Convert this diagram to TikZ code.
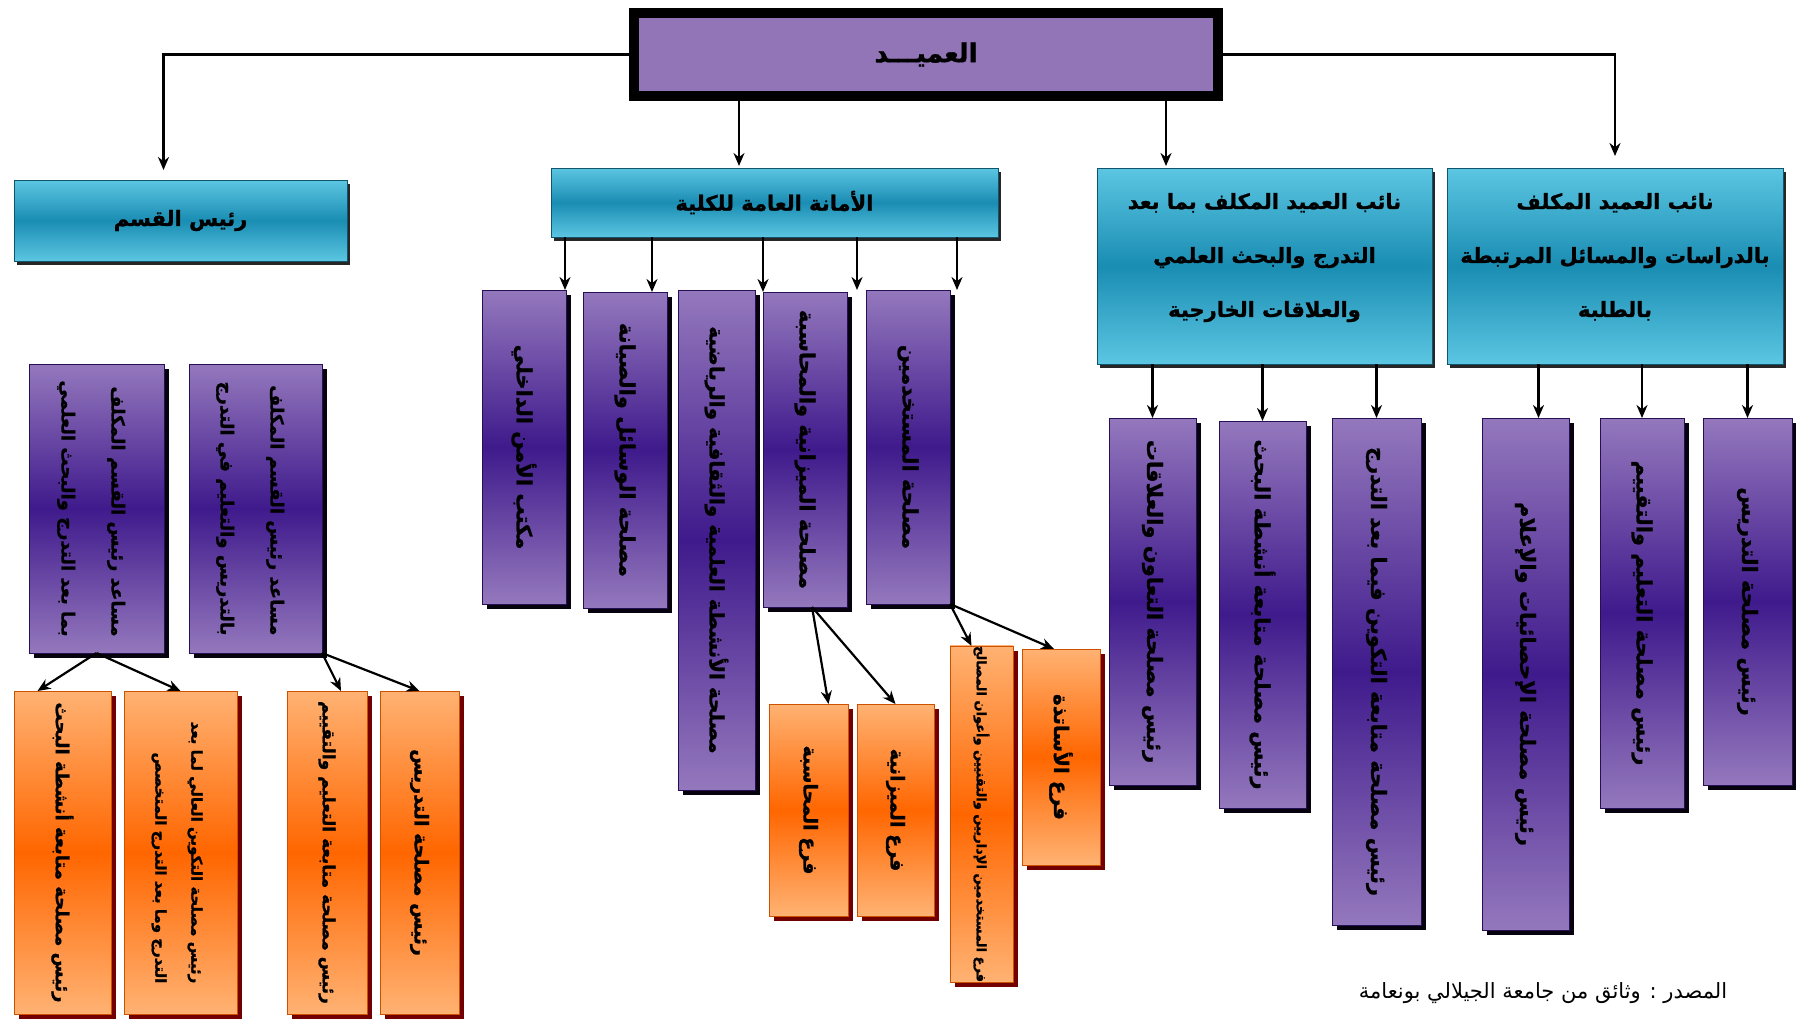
\documentclass[tikz,border=0pt]{standalone}
\usepackage{fontspec}
\newfontfamily\arfont[Script=Arabic, BoldFeatures={FakeBold=1.2}]{DejaVu Sans}
\newfontfamily\arplain[Script=Arabic]{DejaVu Sans}
\TeXXeTstate=1
\usetikzlibrary{arrows.meta,shadows}
\definecolor{tealL}{HTML}{5CC6E2}
\definecolor{tealD}{HTML}{1A8DB3}
\definecolor{purL}{HTML}{9478BD}
\definecolor{purD}{HTML}{3F1A8C}
\definecolor{orL}{HTML}{FFB273}
\definecolor{orD}{HTML}{FF6600}
\definecolor{deanP}{HTML}{9275B6}
\newcommand\AR[1]{{\arfont\bfseries\beginR #1\endR}}
\newcommand\VT[1]{\rotatebox{-90}{#1}}
\newcommand\VTT[2]{\rotatebox{-90}{\begin{tabular}{@{}r@{}}#1\\#2\end{tabular}}}
\begin{document}
\begin{tikzpicture}[x=1pt,y=-1pt,
 box/.style={inner sep=0pt, outer sep=0pt, anchor=center},
 tealbox/.style={box, draw=tealD!60!black, line width=1pt, top color=tealL, bottom color=tealL, middle color=tealD,
   drop shadow={shadow xshift=3pt, shadow yshift=-4pt, fill=black!85, opacity=1},
   font=\fontsize{21}{54}\selectfont, align=center},
 purbox/.style={box, draw=purD!60!black, line width=0.8pt, top color=purL, bottom color=purL, middle color=purD,
   drop shadow={shadow xshift=5pt, shadow yshift=-5pt, fill=black!90!purD, opacity=1},
   font=\fontsize{21}{50}\selectfont},
 orbox/.style={box, draw=orD!80!black, line width=0.8pt, top color=orL, bottom color=orL, middle color=orD,
   drop shadow={shadow xshift=5pt, shadow yshift=-5pt, fill=red!45!black, opacity=1},
   font=\fontsize{19}{44}\selectfont},
 deanbox/.style={box, fill=deanP, draw=black, line width=10pt,
   drop shadow={shadow xshift=3pt, shadow yshift=-3pt, fill=black!80, opacity=1},
   font=\fontsize{26}{30}\selectfont},
 arr/.style={draw=black, line width=2.2pt, -{Stealth[length=13pt,width=11pt]}},
]
\useasboundingbox (0,0) rectangle (1796,1020);

% level 1
\node[deanbox, minimum width=584pt, minimum height=83pt] (dean) at (926,54.5) {\AR{العميـــد}};

% level 2
\node[tealbox, minimum width=333pt, minimum height=81pt] (rq) at (180.5,220.5) {\AR{رئيس القسم}};
\node[tealbox, minimum width=447pt, minimum height=69pt] (sec) at (774.5,202.5) {\AR{الأمانة العامة للكلية}};
\node[tealbox, minimum width=335pt, minimum height=196pt, text depth=22pt] (vpg) at (1264.5,266)
  {\AR{نائب العميد المكلف بما بعد}\\\AR{التدرج والبحث العلمي}\\\AR{والعلاقات الخارجية}};
\node[tealbox, minimum width=336pt, minimum height=196pt, text depth=22pt] (vs) at (1615,266)
  {\AR{نائب العميد المكلف}\\\AR{بالدراسات والمسائل المرتبطة}\\\AR{بالطلبة}};

% secretary children
\node[purbox, minimum width=84pt, minimum height=314pt] (s1) at (524,447) {\VT{\AR{مكتب الأمن الداخلي}}};
\node[purbox, minimum width=84pt, minimum height=316pt] (s2) at (625,450) {\VT{\AR{مصلحة الوسائل والصيانة}}};
\node[purbox, minimum width=77pt, minimum height=500pt, font=\fontsize{20}{24}\selectfont] (s3) at (716.5,540) {\VT{\AR{مصلحة الأنشطة العلمية والثقافية والرياضية}}};
\node[purbox, minimum width=84pt, minimum height=315pt] (s4) at (805,449.5) {\VT{\AR{مصلحة الميزانية والمحاسبة}}};
\node[purbox, minimum width=84pt, minimum height=314pt] (s5) at (908,447) {\VT{\AR{مصلحة المستخدمين}}};

% branches
\node[orbox, minimum width=79pt, minimum height=212pt] (fm) at (808.5,810) {\VT{\AR{فرع المحاسبة}}};
\node[orbox, minimum width=77pt, minimum height=212pt] (fb) at (895.5,810) {\VT{\AR{فرع الميزانية}}};
\node[orbox, minimum width=63pt, minimum height=330pt, font=\fontsize{13}{16}\selectfont] (fs) at (981.5,814) {\VT{\AR{فرع المستخدمين الإداريين والتقنيين وأعوان المصالح}}};
\node[orbox, minimum width=78pt, minimum height=216pt, font=\fontsize{20}{24}\selectfont] (fa) at (1061,757) {\VT{\AR{فرع الأساتذة}}};

% vice dean post-graduation children
\node[purbox, minimum width=87pt, minimum height=367pt] (pA) at (1152.5,601.5) {\VT{\AR{رئيس مصلحة التعاون والعلاقات}}};
\node[purbox, minimum width=87pt, minimum height=387pt] (pB) at (1262.5,614.5) {\VT{\AR{رئيس مصلحة متابعة أنشطة البحث}}};
\node[purbox, minimum width=89pt, minimum height=507pt] (pC) at (1376.5,671.5) {\VT{\AR{رئيس مصلحة متابعة التكوين فيما بعد التدرج}}};

% vice dean studies children
\node[purbox, minimum width=87pt, minimum height=512pt] (pD) at (1525.5,674) {\VT{\AR{رئيس مصلحة الإحصائيات والإعلام}}};
\node[purbox, minimum width=84pt, minimum height=390pt] (pE) at (1642,613) {\VT{\AR{رئيس مصلحة التعليم والتقييم}}};
\node[purbox, minimum width=89pt, minimum height=367pt] (pF) at (1747.5,601.5) {\VT{\AR{رئيس مصلحة التدريس}}};

% department assistants
\node[purbox, minimum width=135pt, minimum height=289pt, font=\fontsize{18}{50}\selectfont] (a1) at (96.5,508.5)
  {\VTT{\AR{مساعد رئيس القسم المكلف}}{\AR{بما بعد التدرج والبحث العلمي}}};
\node[purbox, minimum width=133pt, minimum height=289pt, font=\fontsize{18}{50}\selectfont] (a2) at (255.5,508.5)
  {\VTT{\AR{مساعد رئيس القسم المكلف}}{\AR{بالتدريس والتعليم في التدرج}}};

% department services
\node[orbox, minimum width=97pt, minimum height=323pt, font=\fontsize{18}{44}\selectfont] (o1) at (62.5,852.5) {\VT{\AR{رئيس مصلحة متابعة أنشطة البحث}}};
\node[orbox, minimum width=113pt, minimum height=323pt, font=\fontsize{15}{36}\selectfont] (o2) at (180.5,852.5)
  {\VTT{\AR{رئيس مصلحة التكوين العالي لما بعد}}{\AR{التدرج وما بعد التدرج المتخصص}}};
\node[orbox, minimum width=80pt, minimum height=323pt, font=\fontsize{17}{44}\selectfont] (o3) at (327,852.5) {\VT{\AR{رئيس مصلحة متابعة التعليم والتقييم}}};
\node[orbox, minimum width=79pt, minimum height=323pt] (o4) at (419.5,852.5) {\VT{\AR{رئيس مصلحة التدريس}}};

% source
\node[inner sep=0pt, font=\fontsize{21}{24}\selectfont] (src) at (1543,993) {{\arplain\beginR المصدر : وثائق من جامعة الجيلالي بونعامة\endR}};

% connectors
\coordinate (c1) at (739,0);
\coordinate (c2) at (1166,0);
\coordinate (k1) at (565,0);
\coordinate (k2) at (652,0);
\coordinate (k3) at (763,0);
\coordinate (k4) at (857,0);
\coordinate (k5) at (957,0);

\draw[arr, shorten >=10pt] (dean.west) -| ([xshift=-17pt]rq.north);
\draw[arr, shorten >=12pt] (dean.east) -| (vs.north);
\draw[arr, shorten <=5pt, shorten >=2pt] (dean.south -| c1) -- (sec.north -| c1);
\draw[arr, shorten <=5pt, shorten >=2pt] (dean.south -| c2) -- (vpg.north -| c2);

\draw[arr] (sec.south -| k1) -- (s1.north -| k1);
\draw[arr] (sec.south -| k2) -- (s2.north -| k2);
\draw[arr] (sec.south -| k3) -- (s4.north -| k3);
\draw[arr] (sec.south -| k4) -- (s5.north -| k4);
\draw[arr] (sec.south -| k5) -- (s5.north -| k5);

\draw[arr] (vpg.south -| pA.north) -- (pA.north);
\draw[arr] (vpg.south -| pB.north) -- (pB.north);
\draw[arr] (vpg.south -| pC.north) -- (pC.north);
\draw[arr] ([xshift=13pt]vs.south -| pD.north) -- ([xshift=13pt]pD.north);
\draw[arr] (vs.south -| pE.north) -- (pE.north);
\draw[arr] (vs.south -| pF.north) -- (pF.north);

\draw[arr] ([xshift=7pt]s4.south) -- ([xshift=20pt]fm.north);
\draw[arr] ([xshift=7pt]s4.south) -- (fb.north);
\draw[arr] (s5.south east) -- ([xshift=-10pt]fs.north);
\draw[arr] (s5.south east) -- ([xshift=-7pt]fa.north);

\draw[arr] (a1.south) -- ([xshift=-25pt]o1.north);
\draw[arr] (a1.south) -- (o2.north);
\draw[arr] (a2.south east) -- ([xshift=14pt]o3.north);
\draw[arr] (a2.south east) -- (o4.north);
\end{tikzpicture}
\end{document}
